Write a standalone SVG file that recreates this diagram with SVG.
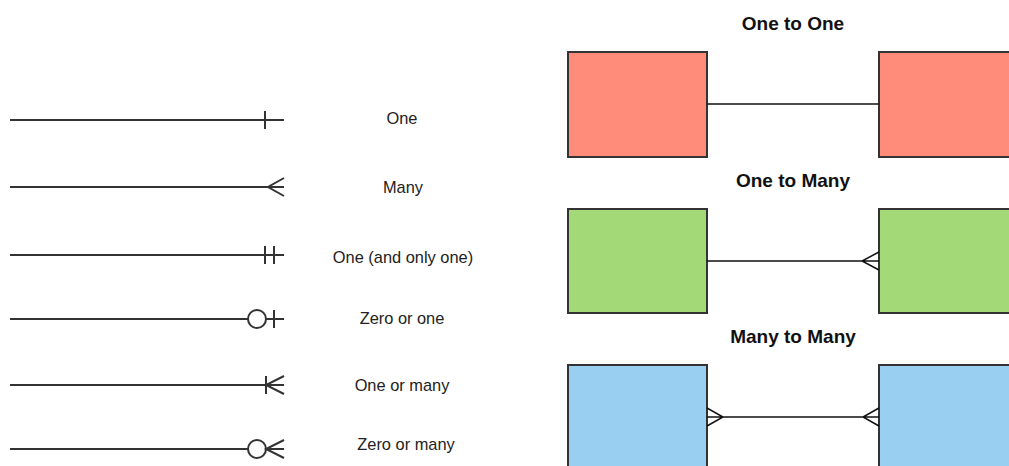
<svg xmlns="http://www.w3.org/2000/svg" width="1009" height="466" viewBox="0 0 1009 466">
  <defs>
    <style>
      .ln { stroke: #333; stroke-width: 2; fill: none; }
      .cn { stroke: #111; stroke-width: 1.5; fill: none; }
      .lbl { font-family: "Liberation Sans", Arial, sans-serif; font-size: 16.4px; fill: #222; text-anchor: middle; }
      .ttl { font-family: "Liberation Sans", Arial, sans-serif; font-size: 19px; font-weight: bold; fill: #111; text-anchor: middle; }
      .ent { stroke: #333; stroke-width: 2; }
      .red { fill: #ff8b7b; }
      .green { fill: #a3d977; }
      .blue { fill: #99d0f2; }
    </style>
  </defs>
  <rect width="1009" height="466" fill="#ffffff"/>

  <!-- legend of crow's foot notation -->
  <g id="legend">
    <g id="sym-one">
      <path class="ln" d="M10 120 H284 M265 111 V129"/>
      <text class="lbl" x="402" y="124">One</text>
    </g>
    <g id="sym-many">
      <path class="ln" d="M10 187 H284 M284 178 L268 187 L284 196"/>
      <text class="lbl" x="403" y="193">Many</text>
    </g>
    <g id="sym-one-only">
      <path class="ln" d="M10 255 H284 M265 246 V264 M274 246 V264"/>
      <text class="lbl" x="403" y="263">One (and only one)</text>
    </g>
    <g id="sym-zero-one">
      <path class="ln" d="M10 319 H248 M266 319 H284 M274 310 V328"/>
      <circle class="ln" cx="257" cy="319" r="9"/>
      <text class="lbl" x="402" y="324">Zero or one</text>
    </g>
    <g id="sym-one-many">
      <path class="ln" d="M10 385 H284 M266 376 V394 M284 376 L266 385 L284 394"/>
      <text class="lbl" x="402" y="391">One or many</text>
    </g>
    <g id="sym-zero-many">
      <path class="ln" d="M10 449 H248 M266 449 H284 M284 440 L266 449 L284 458"/>
      <circle class="ln" cx="257" cy="449" r="9"/>
      <text class="lbl" x="406" y="450">Zero or many</text>
    </g>
  </g>

  <!-- relationship titles -->
  <text class="ttl" x="793" y="30">One to One</text>
  <text class="ttl" x="793" y="187">One to Many</text>
  <text class="ttl" x="793" y="343">Many to Many</text>

  <!-- entities -->
  <g id="e-one-a"><rect class="ent red" x="568" y="52" width="139" height="105"/></g>
  <g id="e-one-b"><rect class="ent red" x="879" y="52" width="140" height="105"/></g>
  <g id="e-many-a"><rect class="ent green" x="568" y="209" width="139" height="104"/></g>
  <g id="e-many-b"><rect class="ent green" x="879" y="209" width="140" height="104"/></g>
  <g id="e-mm-a"><rect class="ent blue" x="568" y="365" width="139" height="110"/></g>
  <g id="e-mm-b"><rect class="ent blue" x="879" y="365" width="140" height="110"/></g>

  <!-- connectors -->
  <g id="connectors">
    <path class="cn" d="M707 104 H879"/>
    <path class="cn" d="M707 261 H879 M879 252 L862 261 L879 270"/>
    <path class="cn" d="M707 417 H879 M707 408 L723 417 L707 426 M879 408 L863 417 L879 426"/>
  </g>
</svg>
